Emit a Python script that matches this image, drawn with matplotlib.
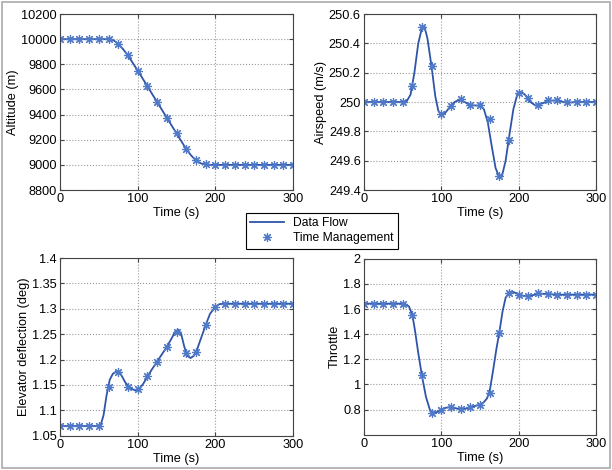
import numpy as np
import matplotlib.pyplot as plt
from matplotlib.patches import Rectangle

plt.rcParams['font.family'] = ['Liberation Sans', 'DejaVu Sans']

# marker times (Time Management), every 12.5 s
t_mk = np.arange(0, 300.1, 12.5)

# ---- Altitude ----
alt_mk = [10000, 10000, 10000, 10000, 10000, 10000, 9965, 9870, 9750, 9625,
          9500, 9375, 9250, 9125, 9040, 9010, 9000, 9000, 9000, 9000,
          9000, 9000, 9000, 9000, 9000]
alt_t = [0, 62.5, 68.75, 75, 81.25, 87.5, 93.75, 100, 106.25, 112.5, 118.75, 125,
         131.25, 137.5, 143.75, 150, 156.25, 162.5, 168.75, 175, 181.25, 187.5,
         193.75, 300]
alt_v = [10000, 10000, 9992, 9962, 9920, 9870, 9810, 9750, 9688, 9625, 9562, 9500,
         9437, 9375, 9312, 9250, 9187, 9125, 9075, 9035, 9012, 9003, 9000, 9000]

# ---- Airspeed ----
spd_mk = [250, 250, 250, 250, 250, 250.11, 250.51, 250.245, 249.918, 249.97,
          250.02, 249.98, 249.98, 249.887, 249.495, 249.74, 250.06, 250.03, 249.98,
          250.015, 250.015, 250.0, 250.0, 250.0, 250.0]
spd_t = [0, 50, 55, 60, 65, 70, 75, 78, 82, 87.5, 92, 96, 100, 104, 110, 117, 123,
         130, 137.5, 150, 155, 160, 165, 170, 175, 178, 183, 188, 193, 198, 203,
         208, 215, 222, 230, 240, 250, 262, 275, 300]
spd_v = [250, 250, 250.005, 250.05, 250.2, 250.4, 250.51, 250.515, 250.43, 250.23,
         250.04, 249.94, 249.91, 249.92, 249.96, 250.0, 250.015, 250.0, 249.978,
         249.975, 249.95, 249.86, 249.7, 249.55, 249.485, 249.49, 249.6, 249.78,
         249.95, 250.05, 250.07, 250.05, 250.0, 249.975, 249.99, 250.01, 250.01,
         249.995, 250, 250]

# ---- Elevator deflection ----
elv_mk = [1.069, 1.069, 1.069, 1.069, 1.069, 1.145, 1.175, 1.146, 1.142, 1.167,
          1.195, 1.225, 1.255, 1.213, 1.214, 1.268, 1.3035, 1.31, 1.31, 1.31,
          1.31, 1.31, 1.31, 1.31, 1.31]
elv_t = [0, 52, 56, 60, 64, 68, 73, 78, 84, 90, 97, 102, 107, 112.5, 118, 125, 131,
         137.5, 143, 148, 152, 156, 160, 164, 168, 172, 176, 181, 187.5, 193, 200,
         205, 210, 300]
elv_v = [1.069, 1.069, 1.09, 1.13, 1.16, 1.172, 1.177, 1.172, 1.155, 1.144, 1.139,
         1.142, 1.152, 1.166, 1.18, 1.196, 1.21, 1.225, 1.24, 1.254, 1.259, 1.25,
         1.225, 1.207, 1.203, 1.207, 1.218, 1.24, 1.268, 1.29, 1.304, 1.309, 1.31,
         1.31]

# ---- Throttle ----
thr_mk = [1.643, 1.643, 1.643, 1.643, 1.643, 1.556, 1.075, 0.774, 0.798, 0.822,
          0.803, 0.819, 0.837, 0.93, 1.408, 1.728, 1.715, 1.70, 1.728, 1.72,
          1.712, 1.715, 1.715, 1.715, 1.715]
thr_t = [0, 52, 58, 62.5, 66, 70, 75, 80, 85, 89, 94, 100, 106, 112.5, 119, 125,
         131, 137.5, 144, 150, 155, 159, 163, 167, 171, 175, 179, 183, 187.5, 191,
         195, 200, 206, 212, 218, 225, 235, 250, 300]
thr_v = [1.643, 1.643, 1.62, 1.55, 1.42, 1.25, 1.06, 0.9, 0.8, 0.77, 0.78, 0.8,
         0.815, 0.82, 0.81, 0.803, 0.808, 0.818, 0.83, 0.84, 0.86, 0.89, 0.97,
         1.12, 1.28, 1.42, 1.58, 1.69, 1.73, 1.74, 1.73, 1.715, 1.705, 1.70, 1.71,
         1.722, 1.72, 1.714, 1.715]

blue = '#2f55a8'
mk_blue = '#5079c8'
asterisk = (8, 2, 0)   # matlab-style '*'

fig = plt.figure(figsize=(6.12, 4.70), dpi=100)
fig.patches.append(Rectangle((0.004, 0.004), 0.992, 0.992, transform=fig.transFigure,
                             fill=False, edgecolor='#aaaaaa', linewidth=1.2))

panels = [
    ([0.098, 0.5957, 0.381, 0.3745], alt_t, alt_v, alt_mk, 'Altitude (m)',
     (8800, 10200), np.arange(8800, 10201, 200), None),
    ([0.595, 0.5957, 0.379, 0.3745], spd_t, spd_v, spd_mk, 'Airspeed (m/s)',
     (249.4, 250.6), np.arange(249.4, 250.61, 0.2),
     ['249.4', '249.6', '249.8', '250', '250.2', '250.4', '250.6']),
    ([0.098, 0.073, 0.381, 0.378], elv_t, elv_v, elv_mk, 'Elevator deflection (deg)',
     (1.05, 1.4), np.arange(1.05, 1.401, 0.05),
     ['1.05', '1.1', '1.15', '1.2', '1.25', '1.3', '1.35', '1.4']),
    ([0.595, 0.075, 0.379, 0.3745], thr_t, thr_v, thr_mk, 'Throttle',
     (0.6, 2.0), np.arange(0.8, 2.01, 0.2),
     ['0.8', '1', '1.2', '1.4', '1.6', '1.8', '2']),
]

for pos, lt, lv, mk, ylabel, ylim, yt, ytl in panels:
    ax = fig.add_axes(pos)
    l1, = ax.plot(lt, lv, color=blue, linewidth=1.3, label='Data Flow')
    l2, = ax.plot(t_mk, mk, linestyle='none', marker=asterisk, markersize=6.5,
                  color=mk_blue, markeredgewidth=0.85, label='Time Management')
    ax.set_xlim(0, 300)
    ax.set_ylim(*ylim)
    ax.set_xticks([0, 100, 200, 300])
    ax.set_yticks(yt)
    if ytl is not None:
        ax.set_yticklabels(ytl)
    ax.set_xlabel('Time (s)', fontsize=9.2, labelpad=1)
    ax.set_ylabel(ylabel, fontsize=9.2, labelpad=1.5)
    ax.tick_params(direction='in', top=True, right=True, labelsize=9.2,
                   length=3, pad=2.5, color='#444444')
    ax.grid(True, linestyle=':', color='#999999', linewidth=0.8)
    for s in ax.spines.values():
        s.set_color('#444444')

leg = fig.legend([l1, l2], ['Data Flow', 'Time Management'], loc='center',
                 bbox_to_anchor=(0.526, 0.509), fontsize=8.7, fancybox=False,
                 framealpha=1, edgecolor='black', borderpad=0.35,
                 handlelength=2.8, labelspacing=0.25)
leg.get_frame().set_linewidth(0.8)

fig.savefig('out.png', dpi=100)
